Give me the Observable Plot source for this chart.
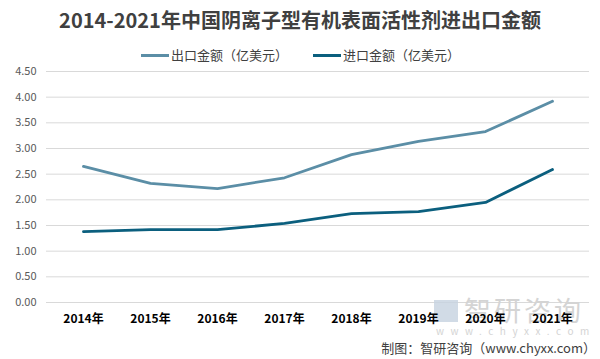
<!DOCTYPE html>
<html><head><meta charset="utf-8">
<script src="https://cdn.jsdelivr.net/npm/d3@7"></script>
<script src="https://cdn.jsdelivr.net/npm/@observablehq/plot@0.6"></script>
<style>
body{margin:0;background:#fff;font-family:"Noto Sans CJK SC","Noto Sans",sans-serif;}
#wrap{position:relative;width:600px;height:359px;overflow:hidden;}
#title{position:absolute;left:0;top:5px;width:600px;text-align:center;font-size:20px;font-weight:bold;color:#404040;line-height:30px;}
#legend{position:absolute;left:0;top:45px;width:600px;height:20px;font-size:13px;color:#404040;line-height:20px;}
.sw{display:inline-block;width:28px;height:3px;vertical-align:middle;margin-right:2px;position:relative;top:-1px;}
.li{position:absolute;top:0;white-space:nowrap;}
#caption{position:absolute;right:4px;top:338px;font-size:13px;color:#404040;line-height:20px;}
#chart{position:absolute;left:0;top:0;}
#wm{position:absolute;left:464px;top:295px;color:#d4d4d4;font-size:27px;line-height:30px;letter-spacing:3px;}
#wmlogo{position:absolute;left:434px;top:300px;width:24px;height:22px;background:#c6d2e0;opacity:0.8;}
#wm2{position:absolute;left:436px;top:325px;color:#d4d4d4;font-size:10px;line-height:12px;letter-spacing:6.5px;}
</style></head>
<body><div id="wrap">
<div id="chart"></div>
<div id="wmlogo"></div>
<div id="wm">智研咨询</div>
<div id="wm2">www.chyxx.com</div>
<div id="title">2014-2021年中国阴离子型有机表面活性剂进出口金额</div>
<div id="legend"></div>
<div id="caption">制图：智研咨询（www.chyxx.com）</div>
</div>
<script>
const years = ["2014年","2015年","2016年","2017年","2018年","2019年","2020年","2021年"];
const exportValues = [2.65, 2.32, 2.22, 2.43, 2.88, 3.14, 3.33, 3.92];
const importValues = [1.38, 1.42, 1.42, 1.54, 1.73, 1.77, 1.95, 2.59];
const seriesNames = ["出口金额（亿美元）", "进口金额（亿美元）"];
const seriesColors = ["#5b8ea6", "#0b5f7e"];
const yTicks = [0, 0.5, 1, 1.5, 2, 2.5, 3, 3.5, 4, 4.5];

const data = [];
years.forEach((y, i) => {
  data.push({year: y, value: exportValues[i], series: seriesNames[0]});
  data.push({year: y, value: importValues[i], series: seriesNames[1]});
});

const leg = document.getElementById("legend");
const legLefts = [141, 313];
seriesNames.forEach((n, i) => {
  const s = document.createElement("span");
  s.className = "li";
  s.style.left = legLefts[i] + "px";
  s.innerHTML = `<span class="sw" style="background:${seriesColors[i]}"></span>${n}`;
  leg.appendChild(s);
});

const common = {
  width: 600,
  height: 359,
  marginTop: 71,
  marginBottom: 57,
  marginLeft: 46,
  marginRight: 11
};

const chart = Plot.plot({
  ...common,
  style: {background: "transparent", fontFamily: "'Noto Sans CJK SC', sans-serif"},
  x: {type: "point", domain: years, padding: 0.5, align: 0.5, axis: null},
  y: {domain: [0, 4.5], axis: null},
  color: {domain: seriesNames, range: seriesColors},
  marks: [
    Plot.gridY(yTicks, {stroke: "#d9d9d9", strokeOpacity: 1, strokeWidth: 1}),
    Plot.axisY(yTicks, {tickFormat: d3.format(".2f"), tickSize: 0, tickPadding: 10, fill: "#595959", fontSize: 11, label: null}),
    Plot.lineY(data, {x: "year", y: "value", z: "series", stroke: "series", strokeWidth: 2.8, curve: "linear"})
  ]
});
document.getElementById("chart").appendChild(chart);

const xAxis = Plot.plot({
  ...common,
  style: {background: "transparent", fontFamily: "'Noto Sans CJK SC', sans-serif", position: "absolute", left: "0px", top: "0px"},
  x: {type: "point", domain: years, padding: 0.5, align: 0.5, axis: null},
  y: {domain: [0, 4.5], axis: null},
  marks: [
    Plot.axisX({tickSize: 0, tickPadding: 12, fill: "#000", fontSize: 12, fontWeight: "bold", label: null})
  ]
});
document.getElementById("wrap").appendChild(xAxis);
</script>
</body></html>
